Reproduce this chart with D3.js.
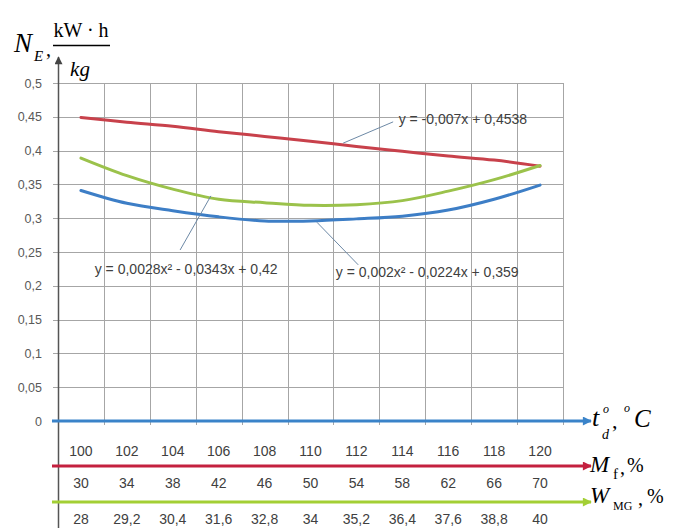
<!DOCTYPE html>
<html>
<head>
<meta charset="utf-8">
<script src="https://cdn.jsdelivr.net/npm/d3@7"></script>
<style>
  body { margin: 0; background: #fff; }
  svg { display: block; }
</style>
</head>
<body>
<div id="chart"></div>
<script>
// categories / tick labels
const tempLabels = [100, 102, 104, 106, 108, 110, 112, 114, 116, 118, 120];
const mfLabels = [30, 34, 38, 42, 46, 50, 54, 58, 62, 66, 70];
const wmgLabels = ["28", "29,2", "30,4", "31,6", "32,8", "34", "35,2", "36,4", "37,6", "38,8", "40"];
const yTicks = [0, 0.05, 0.1, 0.15, 0.2, 0.25, 0.3, 0.35, 0.4, 0.45, 0.5];

// series
const redValues = [0.449, 0.442, 0.436, 0.428, 0.421, 0.414, 0.406, 0.399, 0.392, 0.386, 0.377];
const greenValues = [0.389, 0.363, 0.343, 0.328, 0.323, 0.319, 0.320, 0.326, 0.340, 0.357, 0.378];
const blueValues = [0.341, 0.322, 0.311, 0.302, 0.296, 0.296, 0.299, 0.303, 0.312, 0.328, 0.349];

// trend labels: [category position, value] for leader start/end and text
const notes = [
  { text: "y = -0,007x + 0,4538", from: [6.71, 0.411], to: [7.8, 0.4425], at: [7.92, 0.4465] },
  { text: "y = 0,0028x\u00b2 - 0,0343x + 0,42", from: [3.83, 0.333], to: [3.16, 0.253], at: [1.3, 0.2245] },
  { text: "y = 0,002x\u00b2 - 0,0224x + 0,359", from: [6.14, 0.294], to: [7.04, 0.231], at: [6.55, 0.2205] }
];

const width = 675;
const height = 528;
const margin = { top: 83, right: 112, bottom: 107, left: 58 };
const plotBottom = height - margin.bottom;
const plotRight = width - margin.right;

const fmt = d3.formatLocale({ decimal: ",", thousands: " ", grouping: [3], currency: ["", ""] }).format(".2~f");

const svg = d3.select("#chart")
  .append("svg")
  .attr("width", width)
  .attr("height", height);

svg.append("rect").attr("width", width).attr("height", height).attr("fill", "#fff");

const x = d3.scaleBand()
  .domain(tempLabels)
  .range([margin.left, plotRight]);

// continuous position along categories, 1 = first category centre
const xc = d3.scaleLinear()
  .domain([0.5, tempLabels.length + 0.5])
  .range([margin.left, plotRight]);

const y = d3.scaleLinear()
  .domain([0, 0.5])
  .range([plotBottom, margin.top]);

const cx = (d, i) => x(tempLabels[i]) + x.bandwidth() / 2;

// markers
const defs = svg.append("defs");
function marker(id, color, w, h) {
  defs.append("marker")
    .attr("id", id)
    .attr("markerUnits", "userSpaceOnUse")
    .attr("viewBox", "0 0 10 10")
    .attr("markerWidth", w)
    .attr("markerHeight", h)
    .attr("refX", 9)
    .attr("refY", 5)
    .attr("orient", "auto")
    .append("path")
    .attr("d", "M0,0L10,5L0,10z")
    .attr("fill", color);
}
marker("arr-blue", "#3a83c9", 10, 9);
marker("arr-red", "#c4203f", 10, 9);
marker("arr-green", "#a3cf35", 10, 9);
marker("arr-grey", "#444", 9, 8);

// grid
svg.append("g")
  .attr("stroke", "#a6a6a6")
  .attr("stroke-width", 1)
  .selectAll("line")
  .data(yTicks)
  .join("line")
  .attr("x1", margin.left - 5)
  .attr("x2", plotRight)
  .attr("y1", d => Math.round(y(d)) + 0.5)
  .attr("y2", d => Math.round(y(d)) + 0.5);

svg.append("g")
  .attr("stroke", "#a6a6a6")
  .attr("stroke-width", 1)
  .selectAll("line")
  .data(tempLabels)
  .join("line")
  .attr("x1", d => Math.round(x(d) + x.bandwidth()) + 0.5)
  .attr("x2", d => Math.round(x(d) + x.bandwidth()) + 0.5)
  .attr("y1", margin.top)
  .attr("y2", plotBottom + 4);

// y tick labels
svg.append("g")
  .attr("transform", `translate(${margin.left},0)`)
  .call(d3.axisLeft(y).tickValues(yTicks).tickFormat(fmt).tickSize(0).tickPadding(16))
  .call(g => g.select(".domain").remove())
  .selectAll("text")
  .attr("font-family", "'Liberation Sans', Arial, sans-serif")
  .attr("font-size", 12.5)
  .attr("fill", "#595959");

// vertical axis with arrow
svg.append("line")
  .attr("x1", margin.left + 0.5).attr("x2", margin.left + 0.5)
  .attr("y1", height).attr("y2", 57)
  .attr("stroke", "#555")
  .attr("stroke-width", 1.5)
  .attr("marker-end", "url(#arr-grey)");

// data lines
const line = d3.line()
  .x(cx)
  .y(d => y(d))
  .curve(d3.curveCatmullRom.alpha(0.5));

[[redValues, "#c8414b"], [greenValues, "#9bc24b"], [blueValues, "#3d7ec6"]].forEach(([vals, color]) => {
  svg.append("path")
    .datum(vals)
    .attr("fill", "none")
    .attr("stroke", color)
    .attr("stroke-width", 3)
    .attr("stroke-linecap", "round")
    .attr("d", line);
});

// trend labels
const ann = svg.append("g");
notes.forEach(n => {
  ann.append("line")
    .attr("x1", xc(n.from[0])).attr("y1", y(n.from[1]))
    .attr("x2", xc(n.to[0])).attr("y2", y(n.to[1]))
    .attr("stroke", "#6d89a6")
    .attr("stroke-width", 1);
  ann.append("text")
    .attr("x", xc(n.at[0]))
    .attr("y", y(n.at[1]))
    .attr("dy", "0.35em")
    .attr("font-family", "'Liberation Sans', Arial, sans-serif")
    .attr("font-size", 14)
    .attr("fill", "#404040")
    .text(n.text);
});

// bottom axes (arrows + tick rows)
const arrowEnd = 591;
[[plotBottom, "#3a83c9", "arr-blue"], [466, "#c4203f", "arr-red"], [502, "#a3cf35", "arr-green"]].forEach(([yy, color, m]) => {
  svg.append("line")
    .attr("x1", margin.left - 6).attr("x2", arrowEnd)
    .attr("y1", yy).attr("y2", yy)
    .attr("stroke", color)
    .attr("stroke-width", 3)
    .attr("marker-end", `url(#${m})`);
});

function row(yy, pad, labels) {
  svg.append("g")
    .attr("transform", `translate(0,${yy})`)
    .call(d3.axisBottom(x).tickSize(0).tickPadding(pad).tickFormat((d, i) => labels[i]))
    .call(g => g.select(".domain").remove())
    .selectAll("text")
    .attr("font-family", "'Liberation Sans', Arial, sans-serif")
    .attr("font-size", 14)
    .attr("fill", "#404040");
}
row(plotBottom, 25, tempLabels);
row(466, 12, mfLabels);
row(502, 12, wmgLabels);

// axis titles (serif, italic)
const serif = "'Liberation Serif', 'Times New Roman', serif";
const t = svg.append("g").attr("font-family", serif).attr("fill", "#000");
function put(txt, xx, yy, size, italic, anchor) {
  t.append("text")
    .attr("x", xx).attr("y", yy)
    .attr("font-size", size)
    .attr("font-style", italic ? "italic" : "normal")
    .attr("text-anchor", anchor || "start")
    .text(txt);
}
// N_E, kW·h / kg
put("N", 14, 52, 27, true);
put("E", 34, 61, 15, true);
put(",", 46, 56, 20, false);
put("kW \u00b7 h", 81, 37, 20, false, "middle");
t.append("line").attr("x1", 53).attr("x2", 110).attr("y1", 45.5).attr("y2", 45.5).attr("stroke", "#000").attr("stroke-width", 1.3);
put("kg", 80, 76, 21, true, "middle");

// t_d^o, °C
put("t", 592, 426, 26, true);
put("o", 603, 413, 12, true);
put("d", 602, 439, 14, true);
put(",", 612, 428, 22, false);
put("o", 624, 412, 12, true);
put("C", 634, 427, 25, true);

// M_f, %
put("M", 590, 472, 23, true);
put("f", 613, 479, 15, false);
put(",", 620, 474, 20, false);
put("%", 627, 472, 20, false);

// W_MG, %
put("W", 590, 503, 23, true);
put("MG", 613, 510, 12, false);
put(",", 638, 505, 20, false);
put("%", 647, 503, 20, false);
</script>
</body>
</html>
